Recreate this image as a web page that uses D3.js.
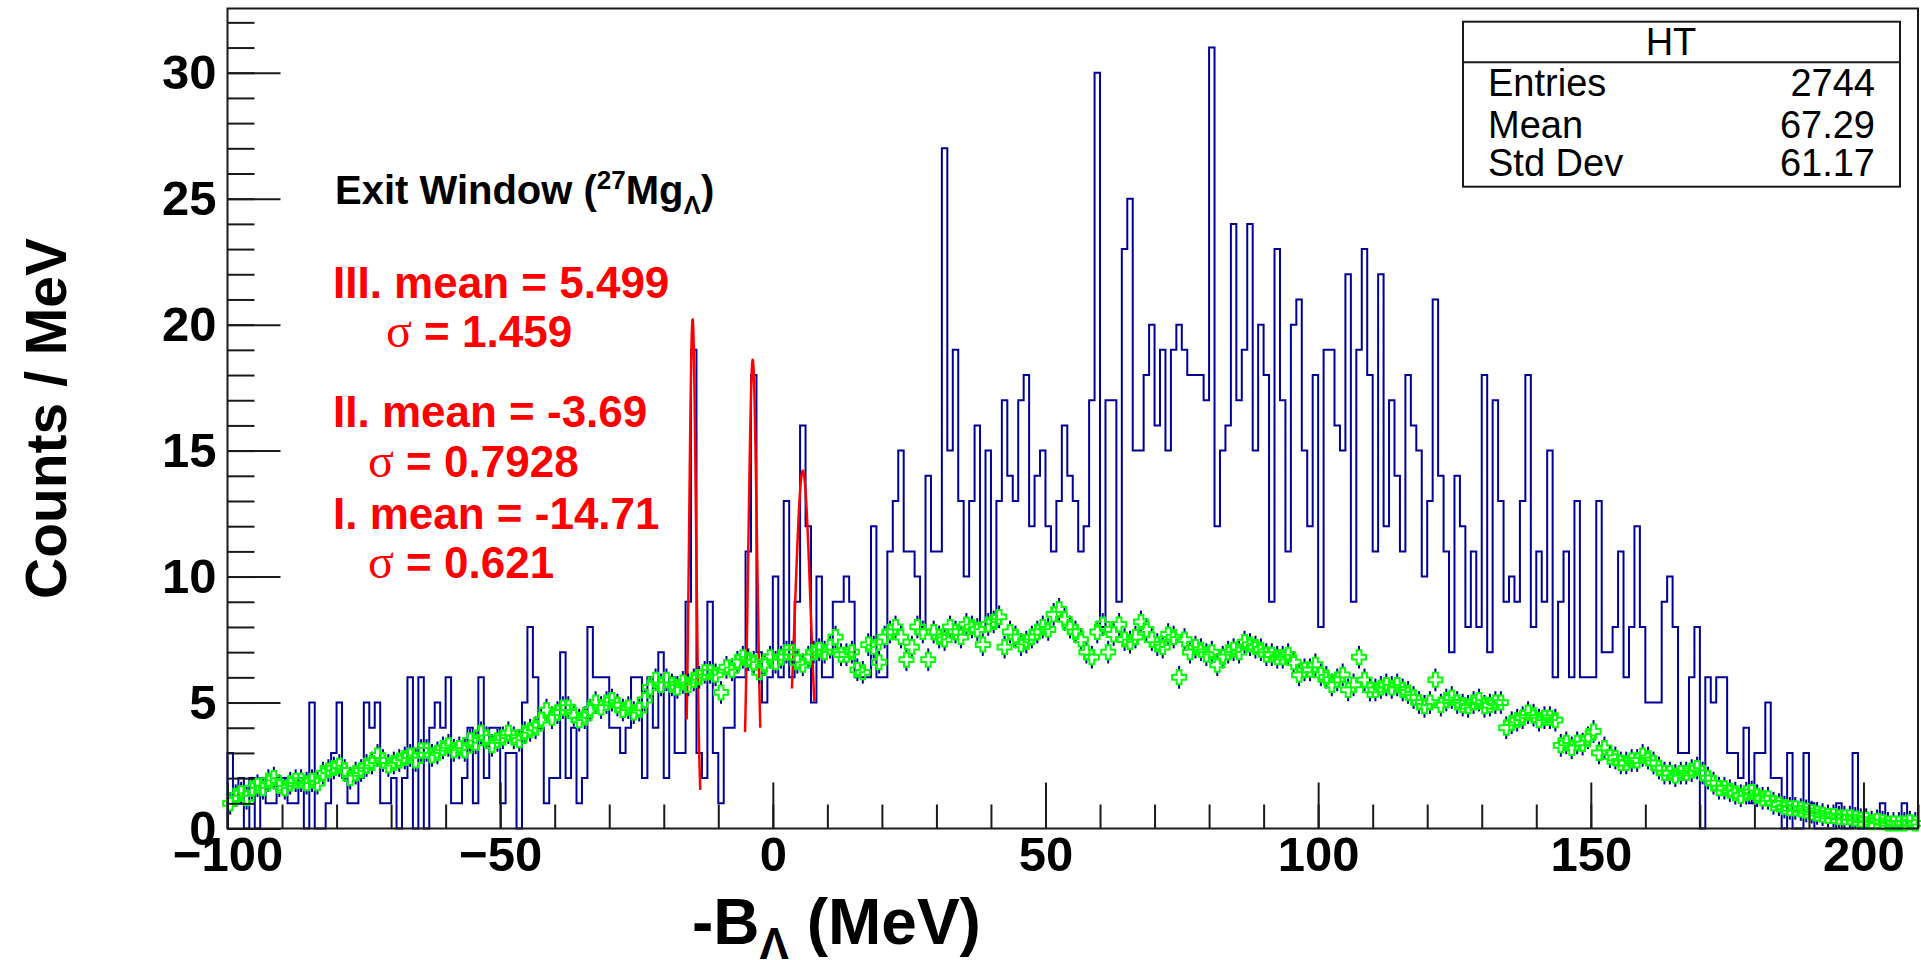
<!DOCTYPE html>
<html lang="en">
<head>
<meta charset="UTF-8">
<title>HT - Exit Window</title>
<style>
    body, html {
        margin: 0;
        padding: 0;
        background: #ffffff;
        overflow: hidden;
    }
    svg {
        display: block;
        font-family: 'Liberation Sans', Arial, sans-serif;
    }
</style>
</head>
<body>
<div id="chart"></div>
<script src="https://d3js.org/d3.v7.min.js"></script>
<script>
// ---- data (1 MeV bins, first bin starts at -100) ----
const xMin = -100, xMax = 210, binWidth = 1;
const yMax = 32.55;

const blueCounts = [
    // -100 .. -32
    3, 1, 2, 0, 2, 0, 2, 1, 1, 2, 2, 1, 1, 2, 0, 5, 0, 0, 1, 3,
    5, 2, 1, 1, 2, 5, 4, 5, 1, 1, 2, 0, 2, 6, 0, 6, 0, 4, 5, 4,
    6, 1, 1, 2, 4, 1, 6, 2, 4, 4, 1, 3, 3, 0, 5, 8, 6, 4, 1, 2,
    2, 7, 2, 4, 1, 2, 8, 6, 6,
    // -31 .. 41
    6, 4, 4, 3, 4, 6, 6, 2, 6, 4, 7, 2, 6, 3, 3, 9, 19, 3, 2, 9,
    3, 1, 4, 4, 6, 6, 11, 18, 7, 5, 6, 10, 6, 13, 6, 9, 16, 12, 5, 10,
    6, 6, 9, 9, 10, 9, 6, 6, 6, 12, 6, 6, 11, 13, 15, 11, 11, 10, 8, 14,
    11, 11, 27, 15, 19, 13, 10, 13, 16, 8, 15, 8, 13,
    // 42 .. 109
    17, 14, 13, 17, 18, 12, 14, 15, 12, 11, 13, 16, 14, 13, 11, 12, 17, 30, 8, 17,
    17, 9, 23, 25, 15, 15, 18, 20, 16, 19, 15, 19, 20, 19, 18, 18, 18, 17, 31, 12,
    15, 16, 24, 17, 19, 24, 15, 20, 18, 9, 23, 17, 11, 20, 21, 15, 12, 18, 8, 19,
    19, 16, 15, 22, 9, 19, 23, 18,
    // 110 .. 209
    11, 22, 12, 17, 14, 11, 18, 16, 15, 10,
    13, 21, 14, 11, 7, 14, 12, 8, 11, 8,
    18, 7, 17, 13, 9, 10, 9, 13, 18, 8,
    11, 9, 15, 6, 9, 11, 6, 13, 6, 6,
    6, 13, 7, 7, 8, 11, 6, 8, 12, 8,
    5, 5, 5, 9, 10, 8, 3, 3, 6, 8,
    0, 6, 5, 6, 6, 3, 3, 2, 4, 1,
    3, 3, 5, 2, 2, 0, 3, 0, 0, 3,
    1, 0, 0, 0, 0, 1, 0, 0, 3, 0,
    0, 0, 0, 1, 0, 0, 0, 1, 0, 0
];

const greenCounts = [
    // -100 .. -32
    1.0, 1.3, 1.4, 1.2, 1.6, 1.7, 1.6, 1.9, 2.0, 1.7, 1.6, 1.8, 1.9, 1.9, 1.8, 1.9, 1.8, 2.2, 2.3, 2.4,
    2.5, 2.3, 2.0, 2.2, 2.3, 2.5, 2.6, 2.9, 2.7, 2.5, 2.6, 2.7, 2.8, 2.9, 2.7, 3.1, 3.1, 2.9, 3.0, 3.2,
    3.3, 3.1, 3.2, 3.1, 3.5, 3.4, 3.8, 3.6, 3.3, 3.5, 3.6, 3.8, 3.6, 3.5, 3.8, 3.9, 4.0, 4.3, 4.7, 4.4,
    4.6, 4.8, 4.8, 4.5, 4.3, 4.4, 4.7, 5.0, 4.8,
    // -31 .. 41
    5.0, 5.1, 4.9, 4.7, 4.8, 4.6, 4.7, 5.1, 5.6, 5.9, 5.7, 5.9, 5.7, 5.6, 5.8, 5.7, 5.9, 6.0, 6.2, 6.2,
    6.1, 5.4, 6.4, 6.3, 6.6, 6.8, 6.7, 6.6, 6.2, 6.5, 6.8, 6.6, 6.8, 7.0, 7.0, 6.6, 6.5, 6.8, 7.0, 7.1,
    7.0, 7.2, 7.6, 6.9, 6.9, 7.0, 6.3, 6.2, 7.3, 7.2, 6.6, 7.6, 7.8, 8.0, 7.6, 6.7, 7.2, 8.0, 7.8, 6.7,
    7.8, 7.6, 7.5, 8.0, 7.8, 7.6, 8.1, 8.0, 7.9, 7.3, 8.1, 8.2, 8.4,
    // 42 .. 109
    7.2, 7.8, 7.6, 7.3, 7.4, 7.6, 7.8, 8.0, 7.9, 8.5, 8.7, 8.3, 8.0, 7.8, 7.5, 7.0, 6.8, 7.8, 8.1, 7.0,
    7.7, 8.1, 7.5, 7.4, 7.6, 8.2, 7.9, 7.5, 7.3, 7.2, 7.7, 7.6, 6.0, 7.5, 7.0, 7.2, 7.1, 6.9, 7.0, 6.5,
    6.8, 7.0, 7.1, 7.0, 7.4, 7.3, 7.2, 7.1, 6.9, 6.9, 6.8, 6.8, 6.9, 6.6, 6.1, 6.3, 6.3, 6.5, 6.1, 6.0,
    5.7, 5.9, 6.1, 5.5, 5.7, 6.8, 5.9, 5.5,
    // 110 .. 209
    5.5, 5.6, 5.7, 5.6, 5.7, 5.5, 5.4, 5.2, 5.0, 4.85,
    5.0, 5.9, 4.9, 5.1, 5.2, 5.0, 4.9, 4.85, 5.0, 5.1,
    4.85, 4.9, 5.0, 5.0, 4.0, 4.2, 4.3, 4.4, 4.6, 4.5,
    4.3, 4.4, 4.4, 4.3, 3.3, 3.4, 3.2, 3.4, 3.35, 3.6,
    3.85, 3.0, 3.2, 2.85, 2.8, 2.6, 2.6, 2.7, 2.7, 2.9,
    2.8, 2.6, 2.4, 2.2, 2.2, 2.1, 2.2, 2.2, 2.3, 2.4,
    2.2, 2.0, 1.8, 1.6, 1.6, 1.5, 1.4, 1.3, 1.4, 1.45,
    1.3, 1.2, 1.2, 1.0, 0.95, 0.85, 0.8, 0.8, 0.75, 0.7,
    0.65, 0.6, 0.55, 0.5, 0.5, 0.45, 0.45, 0.45, 0.4, 0.35,
    0.35, 0.25, 0.3, 0.25, 0.2, 0.2, 0.2, 0.2, 0.25, 0.2
];
const greenErr = 0.45;

// gaussian fits drawn in red
const fitMeans  = [-14.71, -3.69, 5.499];
const fitSigmas = [0.621, 0.7928, 1.459];
const fitAmps   = [20.2, 18.6, 14.2];
const fitLo     = [-15.8, -5.1, 3.5];
const fitHi     = [-13.3, -2.3, 7.6];

const xMajorTicks = [-100, -50, 0, 50, 100, 150, 200];
const yMajorTicks = [0, 5, 10, 15, 20, 25, 30];

const statsTitle = "HT";
const statsLabels = ["Entries", "Mean", "Std Dev"];
const statsValues = ["2744", "67.29", "61.17"];

// ---- layout ----
const width = 1921, height = 960;
const frame = { left: 227.5, right: 1918, top: 8.5, bottom: 828.5 };
const blue = "#000099", green = "#00ff00", red = "#ff0000", ink = "#1a1a1a";

const svg = d3.select("#chart").append("svg")
    .attr("width", width)
    .attr("height", height);

svg.append("rect").attr("width", width).attr("height", height).attr("fill", "#fff");

const x = d3.scaleLinear().domain([xMin, xMax]).range([frame.left, frame.right]);
const y = d3.scaleLinear().domain([0, yMax]).range([frame.bottom, frame.top]);

// ---- blue histogram ----
const histPts = [[xMin, 0]];
blueCounts.forEach((v, i) => histPts.push([xMin + i * binWidth, v]));
histPts.push([xMin + blueCounts.length * binWidth, blueCounts[blueCounts.length - 1]]);
histPts.push([xMin + blueCounts.length * binWidth, 0]);

const stepLine = d3.line()
    .x(d => x(d[0]))
    .y(d => y(d[1]))
    .curve(d3.curveStepAfter);

svg.append("path")
    .datum(histPts)
    .attr("fill", "none")
    .attr("stroke", blue)
    .attr("stroke-width", 2)
    .attr("d", stepLine);

// ---- red gaussian fits ----
const fitLine = d3.line().x(d => x(d[0])).y(d => y(d[1]));
fitMeans.forEach((m, k) => {
    const s = fitSigmas[k], a = fitAmps[k];
    const pts = d3.range(0, 101).map(j => {
        const xv = fitLo[k] + (fitHi[k] - fitLo[k]) * j / 100;
        return [xv, a * Math.exp(-0.5 * ((xv - m) / s) ** 2)];
    });
    svg.append("path")
        .datum(pts)
        .attr("fill", "none")
        .attr("stroke", red)
        .attr("stroke-width", 2.5)
        .attr("d", fitLine);
});

// ---- green points with error bars ----
const ms = 7, arm = 2.4;
const crossPath = `M${-arm},${-ms}H${arm}V${-arm}H${ms}V${arm}H${arm}V${ms}H${-arm}V${arm}H${-ms}V${-arm}H${-arm}Z`;
const gData = greenCounts.map((v, i) => ({ c: xMin + (i + 0.5) * binWidth, v }));

const gErr = svg.append("g").attr("stroke", blue).attr("stroke-width", 2);
gData.forEach(d => {
    const cx = x(d.c), cy = y(d.v);
    gErr.append("line").attr("x1", cx).attr("x2", cx)
        .attr("y1", cy - ms).attr("y2", Math.min(cy - ms, y(d.v + greenErr)));
    gErr.append("line").attr("x1", cx).attr("x2", cx)
        .attr("y1", cy + ms).attr("y2", Math.max(cy + ms, Math.min(y(d.v - greenErr), frame.bottom)));
});

svg.append("g")
    .selectAll("path")
    .data(gData)
    .join("path")
    .attr("d", crossPath)
    .attr("transform", d => `translate(${x(d.c)},${y(d.v)})`)
    .attr("fill", "none")
    .attr("stroke", green)
    .attr("stroke-width", 2);

// ---- axes ----
const xAxisMinor = d3.axisBottom(x)
    .tickValues(d3.range(xMin, xMax + 1, 10))
    .tickSizeInner(-24).tickSizeOuter(0).tickFormat("");
const xAxisMajor = d3.axisBottom(x)
    .tickValues(xMajorTicks)
    .tickSizeInner(-46).tickSizeOuter(0).tickPadding(8)
    .tickFormat(d3.format("d"));

const yAxisMinor = d3.axisLeft(y)
    .tickValues(d3.range(0, 33, 1))
    .tickSizeInner(-27).tickSizeOuter(0).tickFormat("");
const yAxisMajor = d3.axisLeft(y)
    .tickValues(yMajorTicks)
    .tickSizeInner(-53).tickSizeOuter(0).tickPadding(11)
    .tickFormat(d3.format("d"));

function styleAxis(g) {
    g.select(".domain").remove();
    g.selectAll(".tick line").attr("stroke", ink).attr("stroke-width", 2);
    g.selectAll(".tick text")
        .attr("fill", "#000")
        .attr("font-family", "'Liberation Sans', Arial, sans-serif")
        .attr("font-weight", "bold")
        .attr("font-size", 49);
}

svg.append("g").attr("transform", `translate(0,${frame.bottom})`).call(xAxisMinor).call(styleAxis);
svg.append("g").attr("transform", `translate(0,${frame.bottom})`).call(xAxisMajor).call(styleAxis);
svg.append("g").attr("transform", `translate(${frame.left},0)`).call(yAxisMinor).call(styleAxis);
svg.append("g").attr("transform", `translate(${frame.left},0)`).call(yAxisMajor).call(styleAxis);

// frame
svg.append("rect")
    .attr("x", frame.left).attr("y", frame.top)
    .attr("width", frame.right - frame.left)
    .attr("height", frame.bottom - frame.top)
    .attr("fill", "none").attr("stroke", ink).attr("stroke-width", 2);

// ---- axis titles ----
const xt = svg.append("text")
    .attr("x", 692).attr("y", 944)
    .attr("font-weight", "bold").attr("font-size", 64).attr("fill", "#000");
xt.append("tspan").text("-B");
xt.append("tspan").attr("font-size", 44).attr("dy", 15).text("\u039B");
xt.append("tspan").attr("dy", -15).text(" (MeV)");

svg.append("text")
    .attr("transform", `translate(66,${(frame.top + frame.bottom) / 2}) rotate(-90)`)
    .attr("text-anchor", "middle")
    .attr("font-weight", "bold").attr("font-size", 57).attr("fill", "#000")
    .text("Counts / MeV");

// ---- annotations ----
const ew = svg.append("text")
    .attr("x", 335).attr("y", 204)
    .attr("font-weight", "bold").attr("font-size", 40).attr("fill", "#000");
ew.append("tspan").text("Exit Window (");
ew.append("tspan").attr("font-size", 26).attr("dy", -15).text("27");
ew.append("tspan").attr("dy", 15).text("Mg");
ew.append("tspan").attr("font-size", 26).attr("dy", 10).text("\u039B");
ew.append("tspan").attr("dy", -10).text(")");

const fitText = [
    { x: 333, y: 298, main: "III. mean = 5.499" },
    { x: 386, y: 347, sigma: "1.459" },
    { x: 333, y: 427, main: "II. mean = -3.69" },
    { x: 368, y: 477, sigma: "0.7928" },
    { x: 333, y: 529, main: "I. mean = -14.71" },
    { x: 368, y: 578, sigma: "0.621" }
];
fitText.forEach(t => {
    const el = svg.append("text")
        .attr("x", t.x).attr("y", t.y)
        .attr("font-weight", "bold").attr("font-size", 44).attr("fill", red);
    if (t.main) {
        el.text(t.main);
    } else {
        el.append("tspan").attr("font-family", "'Liberation Serif', serif")
            .attr("font-weight", "normal").attr("font-size", 48).text("\u03C3");
        el.append("tspan").text(" = " + t.sigma);
    }
});

// ---- stats box ----
const sb = { x0: 1463, y0: 21.7, x1: 1900, y1: 186.7, ySep: 62.3 };
svg.append("rect")
    .attr("x", sb.x0).attr("y", sb.y0)
    .attr("width", sb.x1 - sb.x0).attr("height", sb.y1 - sb.y0)
    .attr("fill", "#fff").attr("stroke", ink).attr("stroke-width", 2);
svg.append("line")
    .attr("x1", sb.x0).attr("x2", sb.x1).attr("y1", sb.ySep).attr("y2", sb.ySep)
    .attr("stroke", ink).attr("stroke-width", 2);
svg.append("text")
    .attr("x", 1671).attr("y", 55).attr("text-anchor", "middle")
    .attr("font-size", 38).attr("fill", "#000").text(statsTitle);
const rowY = [96, 138, 176];
statsLabels.forEach((lab, i) => {
    svg.append("text").attr("x", 1488).attr("y", rowY[i])
        .attr("font-size", 38).attr("fill", "#000").text(lab);
    svg.append("text").attr("x", 1875).attr("y", rowY[i])
        .attr("text-anchor", "end")
        .attr("font-size", 38).attr("fill", "#000").text(statsValues[i]);
});
</script>
</body>
</html>
